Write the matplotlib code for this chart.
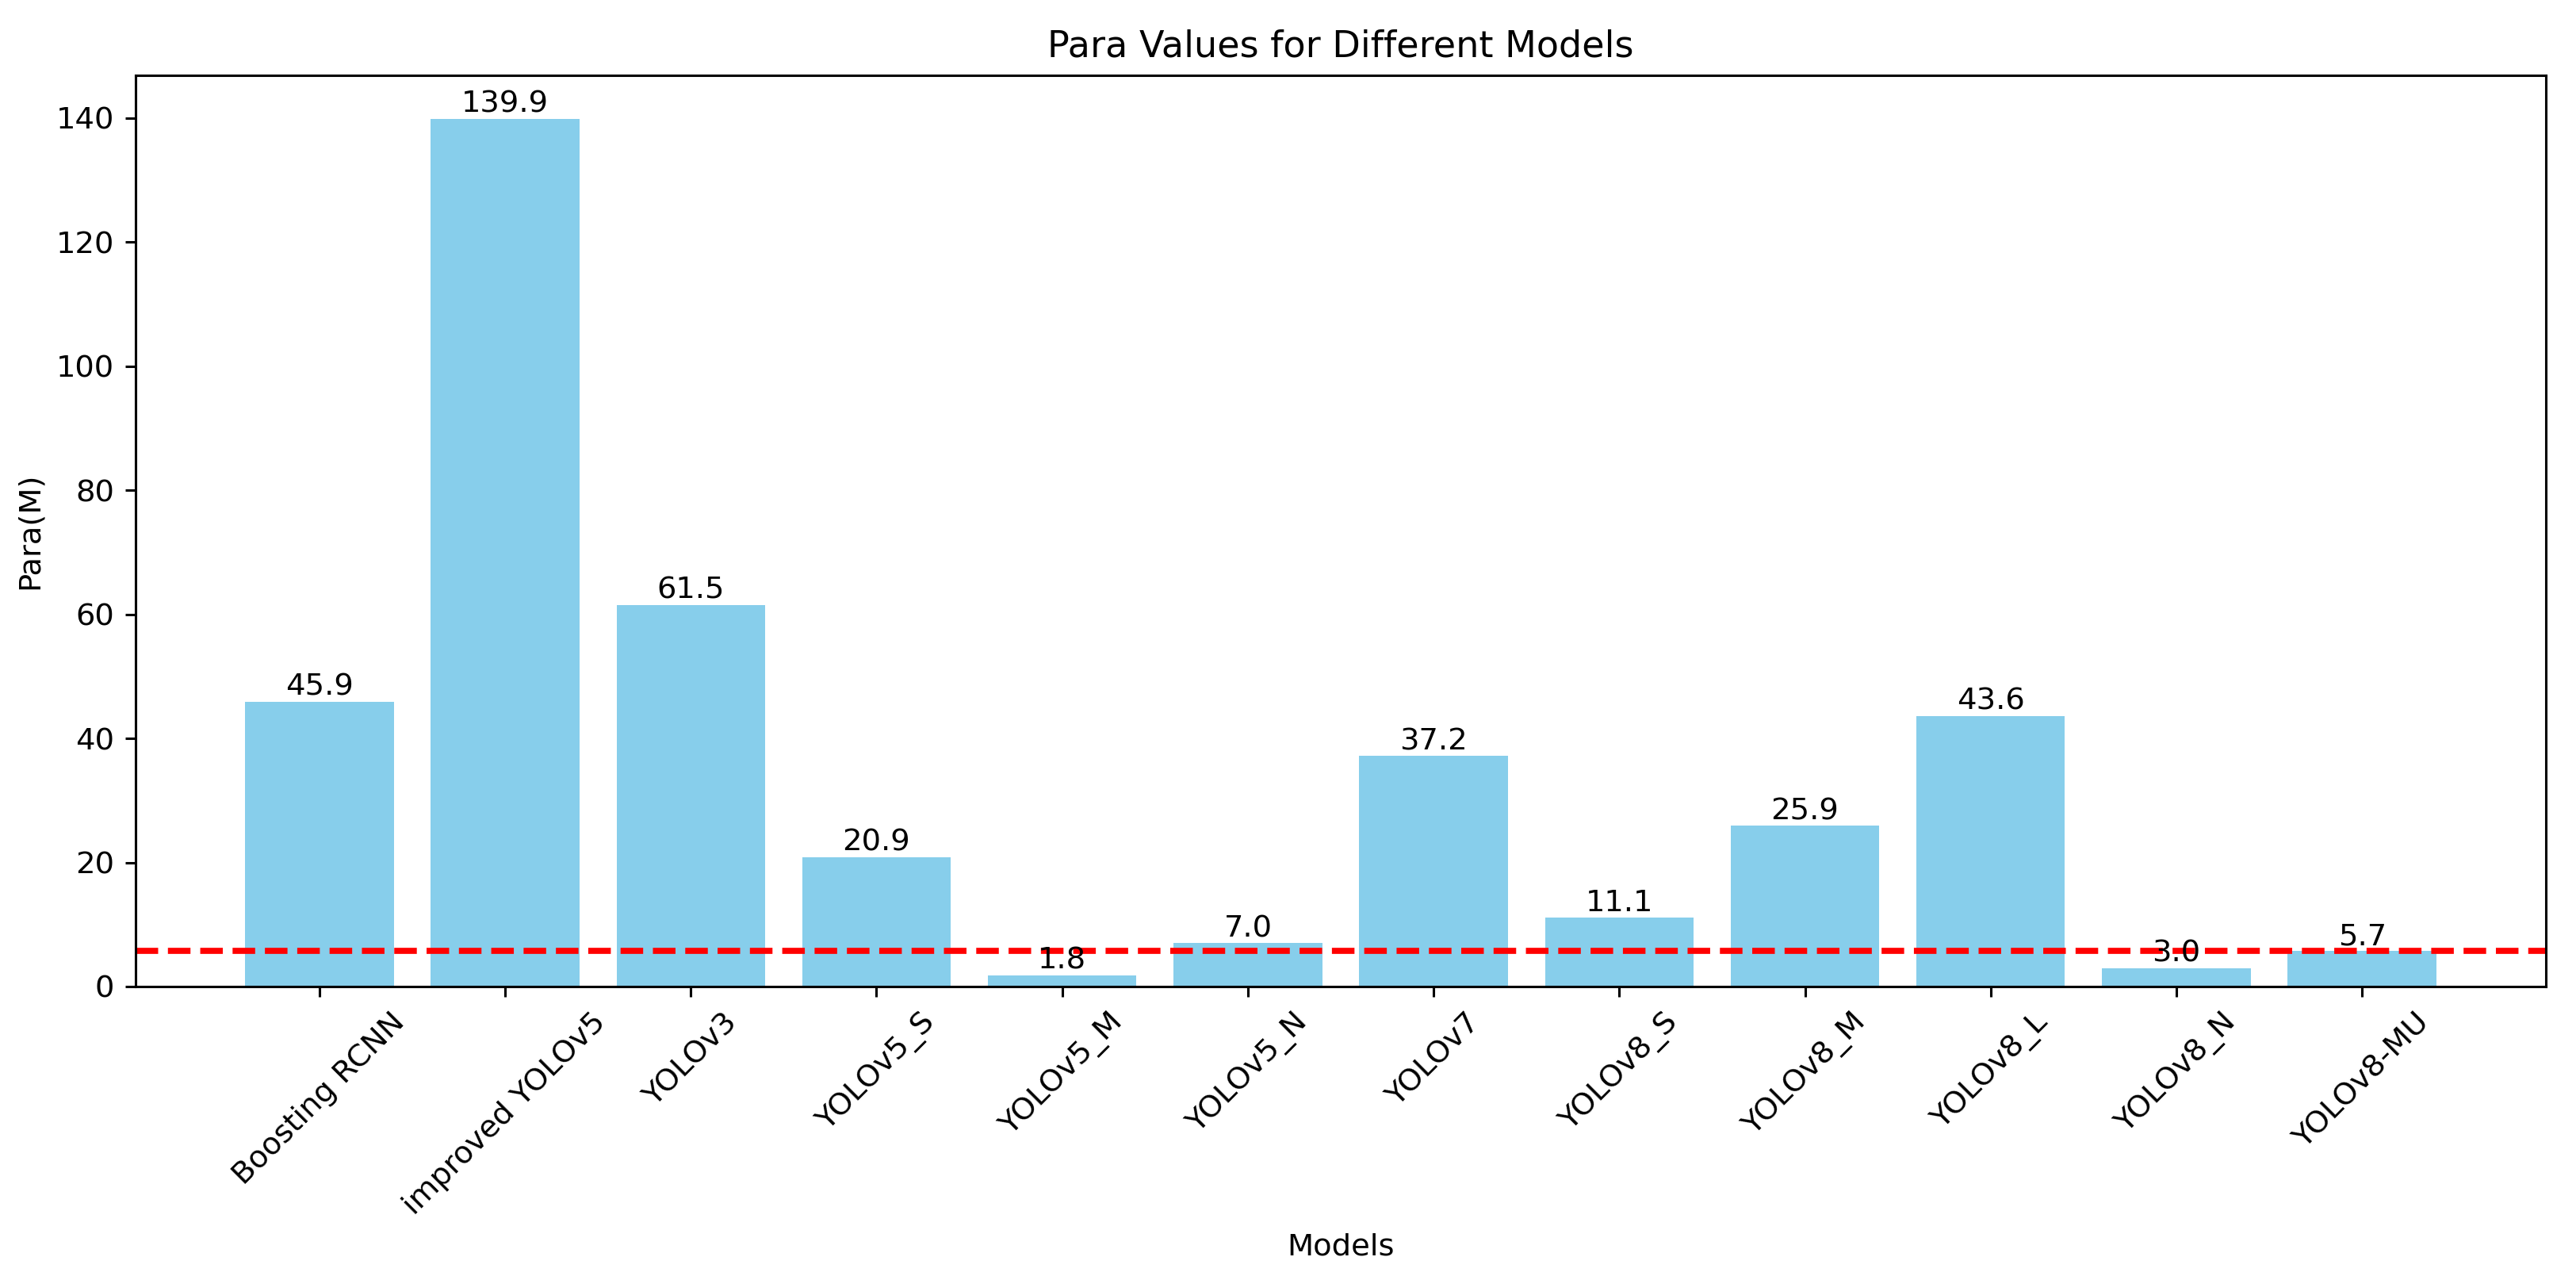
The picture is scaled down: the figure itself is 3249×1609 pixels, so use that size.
import matplotlib
matplotlib.use("Agg")
import matplotlib.pyplot as plt

models = ["Boosting RCNN", "improved YOLOv5", "YOLOv3", "YOLOv5_S", "YOLOv5_M",
          "YOLOv5_N", "YOLOv7", "YOLOv8_S", "YOLOv8_M", "YOLOv8_L", "YOLOv8_N", "YOLOv8-MU"]
para = [45.9, 139.9, 61.5, 20.9, 1.8, 7.0, 37.2, 11.1, 25.9, 43.6, 3.0, 5.7]
reference_value = 5.7

DPI = 277
fig = plt.figure(figsize=(3249 / DPI, 1609 / DPI), dpi=DPI)
ax = fig.add_axes([171 / 3249, (1609 - 1244) / 1609, (3211 - 171) / 3249, (1244 - 95) / 1609])

bars = ax.bar(models, para, color="skyblue")
for b, v in zip(bars, para):
    ax.text(b.get_x() + b.get_width() / 2, b.get_height(), f"{v:.1f}",
            ha="center", va="bottom", fontsize=10)

ax.axhline(reference_value, color="red", linestyle="--", linewidth=2)

ax.set_title("Para Values for Different Models", fontsize=12)
ax.set_xlabel("Models")
ax.set_ylabel("Para(M)")
plt.setp(ax.get_xticklabels(), rotation=45)

fig.savefig("out.png", dpi=DPI)
